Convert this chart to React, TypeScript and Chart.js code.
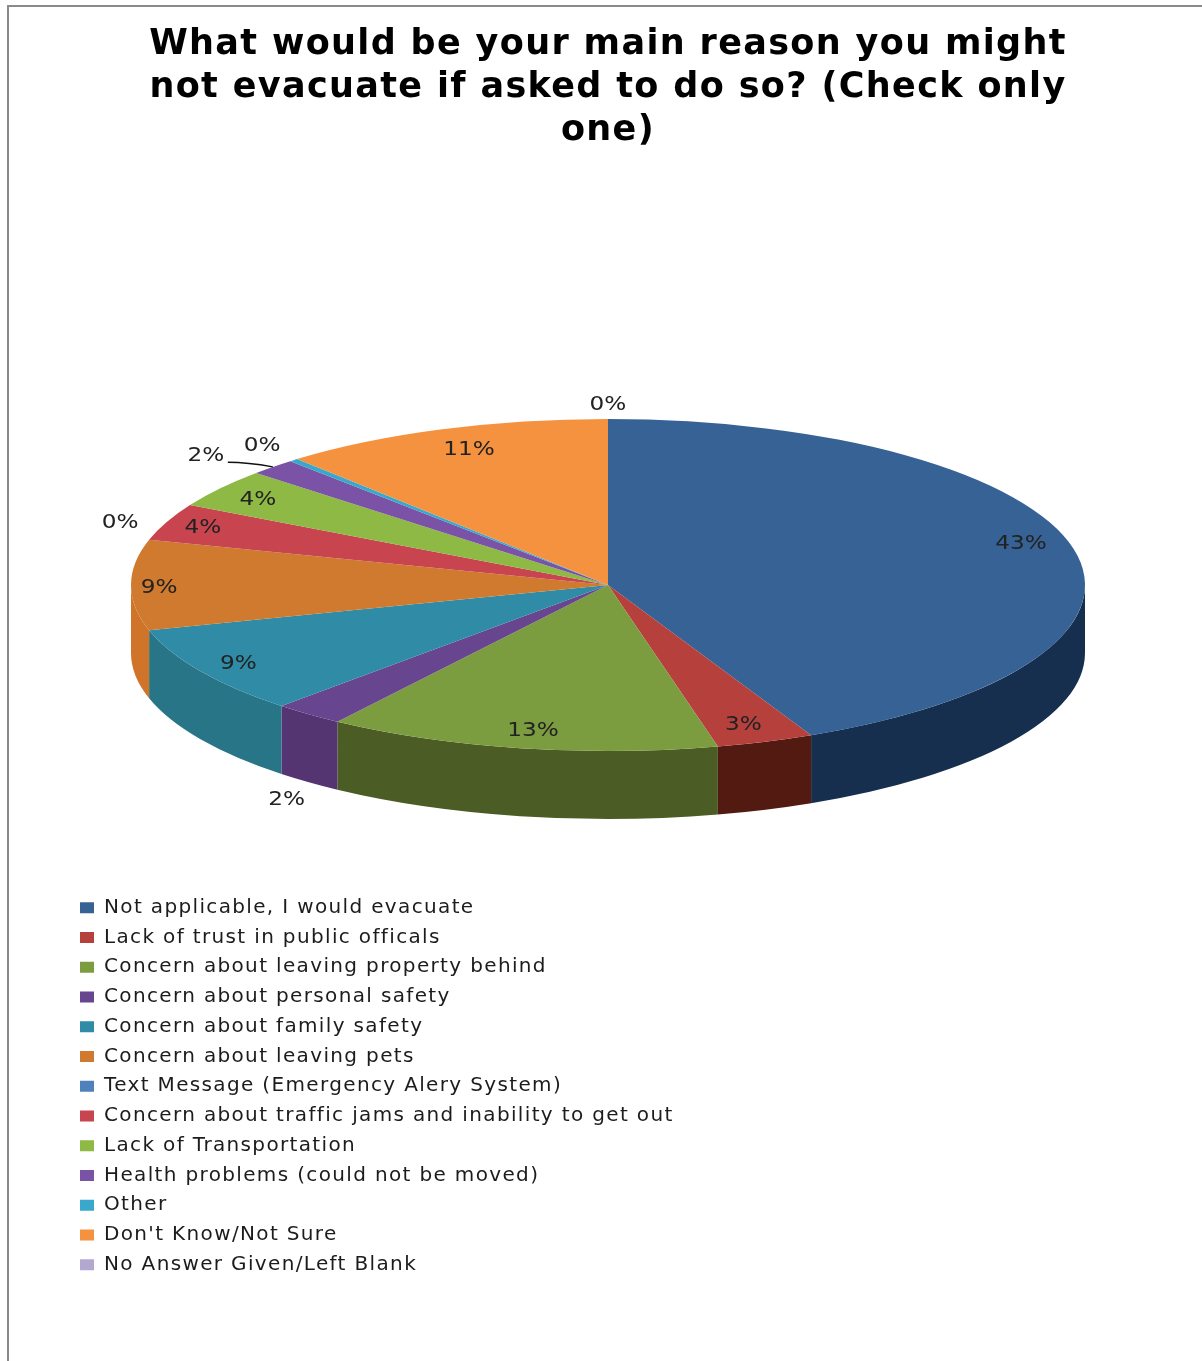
import React, { useEffect, useRef } from "react";
import { Chart, registerables } from "chart.js";

Chart.register(...registerables);

// Survey answers, in percent of respondents
const reasons = [
  "Not applicable, I would evacuate",
  "Lack of trust in public officals",
  "Concern about leaving property behind",
  "Concern about personal safety",
  "Concern about family safety",
  "Concern about leaving pets",
  "Text Message (Emergency Alery System)",
  "Concern about traffic jams and inability to get out",
  "Lack of Transportation",
  "Health problems (could not be moved)",
  "Other",
  "Don't Know/Not Sure",
  "No Answer Given/Left Blank",
];
const shares = [43, 3.3, 13.3, 2.4, 8.6, 8.8, 0, 3.6, 3.8, 1.6, 0.3, 11.3, 0];
const titleLines = [
  "What would be your main reason you might",
  "not evacuate if asked to do so? (Check only",
  "one)",
];

// Slice faces and the darker rim under them
const faceColors = [
  "#376295", "#b5403c", "#7c9c40", "#68468f", "#2f8ba6", "#cf7a2e",
  "#4f81bd", "#c8454f", "#8db944", "#7a52a6", "#38a8cc", "#f59240", "#b3a8d0",
];
const rimColors = [
  "#172f4e", "#521a10", "#4b5c24", "#553472", "#287588", "#d0742a",
  "#27405e", "#602826", "#4d5d2c", "#403251", "#255663", "#7b4b23", "#595468",
];

// Where each percentage sits: fraction of the radius along the slice's middle, then a vertical nudge
const labelReach = [0.887, 0.861, 0.853, 1.073, 0.907, 0.941, 1.063, 0.918, 0.903, 1.2, 1.1, 0.839, 1.09];
const labelLift = [-10, 4, 6, 75, 0, 2, -15, 0, 1, 12, -3, -5, 0];

// The tilted disc
const disc = { x: 608, y: 585, rx: 477, ry: 166, depth: 68 };
const LEADER_SLICE = 9;
// Title and legend are set a little wider than the font's natural spacing
const WIDE_TRACKING = "1.35px";

const tiltedPie = {
  id: "tiltedPie",
  afterLayout(chart: any) {
    const legend = chart.legend;
    legend.left = 70.25;
    legend.top = 888;
    // Tracked text runs past the measured legend width, so the legend's clip box is opened up
    legend.right = chart.width;
    legend.bottom = chart.height;
  },
  beforeDraw(chart: any) {
    chart.ctx.letterSpacing = WIDE_TRACKING;
  },
  beforeDatasetsDraw(chart: any) {
    chart.ctx.letterSpacing = "0px";
  },
  beforeDatasetDraw(chart: any, args: any) {
    const ctx = chart.ctx;
    const arcs = args.meta.data;
    arcs.forEach((arc: any, i: number) => {
      const lo = Math.max(arc.startAngle, 0);
      const hi = Math.min(arc.endAngle, Math.PI);
      if (hi <= lo) return;
      ctx.beginPath();
      ctx.ellipse(disc.x, disc.y, disc.rx, disc.ry, 0, lo, hi);
      ctx.ellipse(disc.x, disc.y + disc.depth, disc.rx, disc.ry, 0, hi, lo, true);
      ctx.closePath();
      ctx.fillStyle = rimColors[i];
      ctx.fill();
    });
    const first = arcs[0];
    const r = first.outerRadius;
    ctx.save();
    ctx.translate(disc.x, disc.y);
    ctx.scale(disc.rx / r, disc.ry / r);
    ctx.translate(-first.x, -first.y);
  },
  afterDatasetDraw(chart: any) {
    chart.ctx.restore();
  },
  afterDatasetsDraw(chart: any) {
    const ctx = chart.ctx;
    const arcs = chart.getDatasetMeta(0).data;
    ctx.save();
    ctx.font = "19px 'DejaVu Sans'";
    ctx.fillStyle = "#222222";
    ctx.textAlign = "center";
    ctx.textBaseline = "middle";
    arcs.forEach((arc: any, i: number) => {
      const mid = (arc.startAngle + arc.endAngle) / 2;
      const x = disc.x + disc.rx * labelReach[i] * Math.cos(mid);
      const y = disc.y + disc.ry * labelReach[i] * Math.sin(mid) + labelLift[i] + 1;
      ctx.save();
      ctx.translate(x, y);
      ctx.scale(1.22, 1);
      ctx.fillText(`${Math.round(shares[i])}%`, 0, 0);
      ctx.restore();
      if (i === LEADER_SLICE) {
        const ex = disc.x + disc.rx * Math.cos(mid);
        const ey = disc.y + disc.ry * Math.sin(mid);
        ctx.beginPath();
        ctx.moveTo(x + 22, y + 6);
        ctx.quadraticCurveTo(x + 42, y + 6, ex, ey);
        ctx.strokeStyle = "#111111";
        ctx.lineWidth = 1.5;
        ctx.stroke();
      }
    });
    ctx.restore();
  },
};

export default function App() {
  const canvasRef = useRef<HTMLCanvasElement>(null);

  useEffect(() => {
    const chart = new Chart(canvasRef.current as HTMLCanvasElement, {
      type: "pie",
      data: {
        labels: reasons,
        datasets: [
          {
            data: shares,
            backgroundColor: faceColors,
            borderWidth: 0,
            clip: false,
          } as any,
        ],
      },
      options: {
        responsive: false,
        animation: false,
        events: [],
        layout: { padding: { left: 14, right: 0, top: 0, bottom: 341 } },
        plugins: {
          title: {
            display: true,
            text: titleLines,
            color: "#000000",
            font: { family: "'DejaVu Sans'", size: 35, weight: "bold", lineHeight: 1.23 },
            padding: { top: 23, bottom: 8 },
          },
          legend: {
            display: true,
            position: "chartArea" as any,
            align: "start",
            labels: {
              font: { family: "'DejaVu Sans'", size: 20 },
              color: "#1c1c1c",
              boxWidth: 14,
              boxHeight: 11,
              padding: 9.75,
            },
          },
          tooltip: { enabled: false },
        },
      },
      plugins: [tiltedPie],
    });
    return () => chart.destroy();
  }, []);

  return (
    <div style={{ position: "absolute", left: 0, top: 0, width: 1202, height: 1361, background: "#ffffff", overflow: "hidden" }}>
      <canvas ref={canvasRef} width={1202} height={1361} style={{ display: "block" }} />
      <div
        style={{
          position: "absolute",
          left: 7,
          top: 5,
          width: 1195,
          height: 1356,
          boxSizing: "border-box",
          borderLeft: "2px solid #8a8a8a",
          borderTop: "2px solid #8a8a8a",
          pointerEvents: "none",
        }}
      />
    </div>
  );
}
